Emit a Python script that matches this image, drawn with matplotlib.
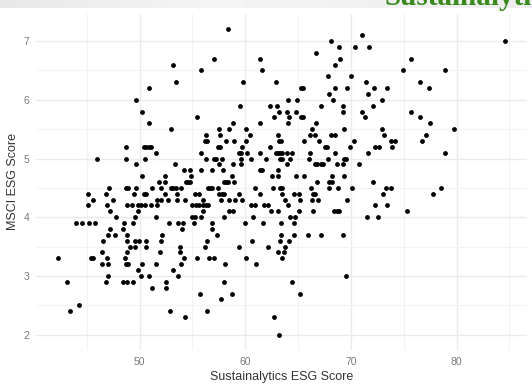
import numpy as np
import matplotlib
matplotlib.use("Agg")
import matplotlib.pyplot as plt
from matplotlib.ticker import MultipleLocator

plt.rcParams['font.family'] = ['Liberation Sans', 'DejaVu Sans']

# Sustainalytics ESG score (x) and MSCI ESG score (y)
sustainalytics = [
    49.7, 48.7, 46.0, 48.7, 49.7, 47.1, 48.7, 48.9, 49.7, 45.1, 46.8, 49.5, 45.6, 47.5, 45.1,
    46.9, 48.8, 49.3, 49.8, 47.2, 49.8, 47.8, 49.6, 44.0, 44.5, 45.2, 45.8, 48.5, 49.4, 47.2,
    48.4, 47.0, 47.7, 48.8, 46.5, 48.8, 49.6, 49.9, 49.1, 49.6, 46.4, 48.8, 42.3, 45.4, 45.6,
    46.9, 48.6, 46.4, 47.0, 48.7, 48.9, 49.8, 47.0, 46.8, 43.1, 48.4, 48.8, 49.4, 44.3, 43.4,
    58.4, 53.2, 57.0, 55.8, 53.4, 50.9, 50.2, 50.9, 55.4, 53.0, 57.5, 58.5, 58.8, 56.3, 56.2,
    56.4, 57.6, 58.2, 58.9, 50.4, 50.6, 50.9, 51.1, 57.4, 57.6, 51.5, 55.8, 50.5, 56.3, 57.0,
    57.2, 57.8, 53.3, 57.5, 58.8, 54.2, 54.8, 55.8, 56.8, 57.9, 50.2, 52.4, 54.9, 58.7, 51.8,
    52.4, 54.4, 54.6, 54.8, 58.0, 58.2, 58.4, 51.2, 52.0, 53.0, 53.2, 53.4, 53.9, 56.5, 56.7,
    56.8, 57.4, 50.4, 50.6, 52.4, 53.5, 55.2, 55.6, 57.5, 57.8, 58.0, 51.6, 52.0, 52.7, 53.5,
    54.3, 56.0, 57.7, 58.5, 50.1, 50.5, 51.1, 51.6, 55.0, 55.3, 55.6, 56.0, 56.3, 56.5, 56.0,
    58.5, 58.8, 51.5, 55.0, 55.2, 55.8, 58.0, 52.8, 53.6, 54.1, 55.1, 56.8, 54.0, 56.8, 52.1,
    57.3, 50.6, 52.0, 56.4, 50.6, 53.8, 56.2, 51.9, 53.8, 54.2, 55.4, 56.6, 57.0, 50.2, 51.5,
    53.9, 58.1, 53.2, 50.1, 50.9, 53.6, 52.5, 58.0, 51.2, 52.5, 55.7, 58.7, 57.7, 52.9, 56.4,
    54.3,
    61.4, 61.6, 66.7, 59.8, 62.9, 65.3, 65.5, 59.5, 62.3, 63.0, 64.0, 64.9, 67.2, 63.2, 63.9,
    64.8, 62.7, 64.1, 65.3, 65.5, 61.4, 64.0, 66.7, 60.1, 66.3, 60.4, 63.1, 66.1, 66.6, 60.1,
    63.2, 63.4, 65.6, 67.0, 59.7, 62.3, 67.5, 59.4, 59.6, 60.2, 61.4, 62.9, 63.1, 63.3, 63.5,
    63.9, 64.4, 66.1, 59.6, 60.5, 62.0, 63.3, 63.5, 64.2, 66.0, 59.6, 63.9, 66.6, 66.8, 67.2,
    61.4, 61.6, 63.1, 58.9, 62.5, 63.1, 64.8, 65.6, 66.8, 60.9, 62.6, 63.3, 63.5, 66.2, 59.4,
    61.4, 63.5, 64.6, 65.1, 66.4, 66.6, 59.0, 59.7, 63.8, 65.2, 66.3, 66.9, 60.5, 60.9, 61.8,
    62.1, 64.0, 62.4, 63.1, 65.1, 66.4, 60.7, 64.2, 64.7, 60.0, 61.7, 63.4, 64.6, 63.4, 64.6,
    65.9, 67.2, 63.3, 64.1, 60.6, 59.4, 62.1, 63.8, 63.1, 63.7, 60.1, 63.5, 61.0, 64.4, 65.2,
    62.7, 63.2,
    71.0, 68.1, 68.9, 70.4, 71.7, 75.7, 69.0, 68.5, 74.9, 67.8, 70.0, 71.4, 68.5, 69.6, 72.2,
    73.4, 67.9, 71.6, 68.3, 72.9, 69.2, 72.1, 69.2, 71.0, 75.7, 71.3, 69.3, 72.9, 68.1, 68.5,
    73.1, 70.3, 73.8, 74.2, 67.7, 69.9, 72.3, 72.7, 73.9, 71.6, 68.5, 67.8, 69.3, 69.5, 67.4,
    68.7, 69.2, 70.8, 68.2, 69.3, 67.9, 68.2, 72.1, 67.9, 68.8, 70.1, 73.3, 73.8, 73.0, 69.6,
    72.3, 73.4, 68.4, 68.7, 68.9, 75.3, 71.5, 72.6, 69.2, 69.5,
    84.55, 78.9, 76.5, 77.4, 76.5, 77.5, 79.8, 77.1, 76.7, 78.9, 78.5, 77.8,
]
msci = [
    6.0, 5.2, 5.0, 5.0, 4.9, 4.5, 4.5, 4.5, 4.5, 4.4, 4.4, 4.4, 4.3, 4.3, 4.2,
    4.2, 4.2, 4.2, 4.2, 4.1, 4.1, 4.0, 4.0, 3.9, 3.9, 3.9, 3.9, 3.9, 3.9, 3.8,
    3.8, 3.7, 3.7, 3.7, 3.6, 3.6, 3.6, 3.6, 3.5, 3.5, 3.4, 3.4, 3.3, 3.3, 3.3,
    3.3, 3.3, 3.2, 3.2, 3.2, 3.2, 3.1, 3.0, 2.9, 2.9, 2.9, 2.9, 2.9, 2.5, 2.4,
    7.2, 6.6, 6.7, 6.5, 6.3, 6.2, 5.8, 5.6, 5.7, 5.5, 5.5, 5.5, 5.6, 5.4, 5.3,
    5.3, 5.4, 5.3, 5.3, 5.2, 5.2, 5.2, 5.2, 5.2, 5.2, 5.1, 5.1, 5.0, 5.0, 5.0,
    5.0, 5.0, 4.9, 4.9, 4.9, 4.8, 4.8, 4.8, 4.8, 4.8, 4.7, 4.7, 4.7, 4.7, 4.6,
    4.6, 4.6, 4.6, 4.6, 4.6, 4.6, 4.6, 4.5, 4.5, 4.5, 4.5, 4.5, 4.5, 4.5, 4.5,
    4.5, 4.5, 4.4, 4.4, 4.4, 4.4, 4.4, 4.4, 4.4, 4.4, 4.4, 4.3, 4.3, 4.3, 4.3,
    4.3, 4.3, 4.3, 4.3, 4.2, 4.2, 4.2, 4.2, 4.2, 4.2, 4.2, 4.2, 4.2, 4.2, 4.1,
    4.1, 4.1, 4.0, 4.0, 4.0, 4.0, 4.0, 3.9, 3.9, 3.9, 3.9, 3.9, 3.8, 3.8, 3.7,
    3.7, 3.6, 3.6, 3.6, 3.5, 3.5, 3.5, 3.4, 3.4, 3.3, 3.3, 3.3, 3.3, 3.2, 3.2,
    3.2, 3.2, 3.1, 3.0, 3.0, 3.0, 2.9, 2.9, 2.8, 2.8, 2.7, 2.7, 2.6, 2.4, 2.4,
    2.3,
    6.7, 6.5, 6.8, 6.3, 6.3, 6.2, 6.2, 5.9, 5.9, 5.9, 6.0, 6.0, 5.9, 5.8, 5.8,
    5.8, 5.7, 5.7, 5.7, 5.7, 5.6, 5.6, 5.6, 5.5, 5.5, 5.4, 5.4, 5.4, 5.4, 5.3,
    5.3, 5.3, 5.3, 5.3, 5.2, 5.2, 5.2, 5.1, 5.1, 5.1, 5.1, 5.1, 5.1, 5.1, 5.1,
    5.1, 5.1, 5.1, 5.0, 5.0, 5.0, 5.0, 5.0, 5.0, 5.0, 4.9, 4.9, 4.9, 4.9, 4.9,
    4.8, 4.8, 4.8, 4.6, 4.7, 4.7, 4.7, 4.7, 4.6, 4.5, 4.5, 4.5, 4.5, 4.5, 4.4,
    4.4, 4.4, 4.4, 4.4, 4.4, 4.4, 4.3, 4.3, 4.3, 4.3, 4.3, 4.3, 4.2, 4.2, 4.2,
    4.2, 4.2, 4.1, 4.1, 4.1, 4.1, 4.0, 4.0, 4.0, 3.9, 3.9, 3.9, 3.9, 3.7, 3.7,
    3.7, 3.7, 3.6, 3.6, 3.6, 3.5, 3.5, 3.5, 3.4, 3.4, 3.3, 3.3, 3.2, 2.9, 2.7,
    2.3, 2.0,
    7.1, 7.0, 6.9, 6.9, 6.9, 6.7, 6.7, 6.6, 6.5, 6.4, 6.4, 6.3, 6.2, 6.2, 6.2,
    6.2, 6.1, 6.1, 6.0, 6.0, 5.9, 5.9, 5.8, 5.8, 5.8, 5.7, 5.5, 5.5, 5.4, 5.4,
    5.4, 5.3, 5.3, 5.3, 5.2, 5.2, 5.2, 5.2, 5.2, 5.1, 5.1, 5.0, 5.0, 5.0, 4.9,
    4.9, 4.9, 4.9, 4.7, 4.7, 4.6, 4.6, 4.6, 4.5, 4.5, 4.5, 4.5, 4.5, 4.4, 4.3,
    4.2, 4.2, 4.1, 4.1, 4.1, 4.1, 4.0, 4.0, 3.7, 3.0,
    7.0, 6.5, 6.3, 6.2, 5.7, 5.6, 5.5, 5.4, 5.3, 5.1, 4.5, 4.4,
]

x = np.array(sustainalytics)
y = np.array(msci)

fig = plt.figure(figsize=(5.32, 3.87), dpi=100)

# grey page strip with the cut-off green heading at the very top
band = fig.add_axes([0, 1 - 8 / 387, 1, 8 / 387])
shade = np.interp(np.linspace(0, 1, 200), [0, 0.4, 1], [0.91, 0.96, 0.93])
band.imshow(shade[None, :], aspect='auto', cmap='gray', vmin=0, vmax=1)
band.axis('off')
fig.text(385 / 532, 1 - 5 / 387, 'Sustainalytics', color='#3a8a1e',
         fontsize=21, fontweight='bold', family='Liberation Serif',
         ha='left', va='baseline')

ax = fig.add_axes([36 / 532, 1 - 350 / 387, 491 / 532, 336 / 387])
ax.scatter(x, y, s=12, color='black', linewidths=0, zorder=3)

# ggplot-like 5% expansion
xr = x.max() - x.min()
yr = y.max() - y.min()
ax.set_xlim(x.min() - 0.05 * xr, x.max() + 0.05 * xr)
ax.set_ylim(y.min() - 0.05 * yr, y.max() + 0.05 * yr)

ax.xaxis.set_major_locator(MultipleLocator(10))
ax.xaxis.set_minor_locator(MultipleLocator(5))
ax.yaxis.set_major_locator(MultipleLocator(1))
ax.yaxis.set_minor_locator(MultipleLocator(0.5))
ax.grid(which='major', color='#ebebeb', linewidth=1.0)
ax.grid(which='minor', color='#f3f3f3', linewidth=0.8)
ax.set_axisbelow(True)
for s in ax.spines.values():
    s.set_visible(False)
ax.tick_params(which='both', length=0)
ax.tick_params(axis='x', pad=5, labelsize=7.5, labelcolor='#7a7a7a')
ax.tick_params(axis='y', pad=5, labelsize=7.5, labelcolor='#7a7a7a')

ax.set_xlabel('Sustainalytics ESG Score', fontsize=9, color='#333333', labelpad=3)
ax.set_ylabel('MSCI ESG Score', fontsize=9, color='#333333', labelpad=3)

fig.savefig('out.png', dpi=100, facecolor='white')
